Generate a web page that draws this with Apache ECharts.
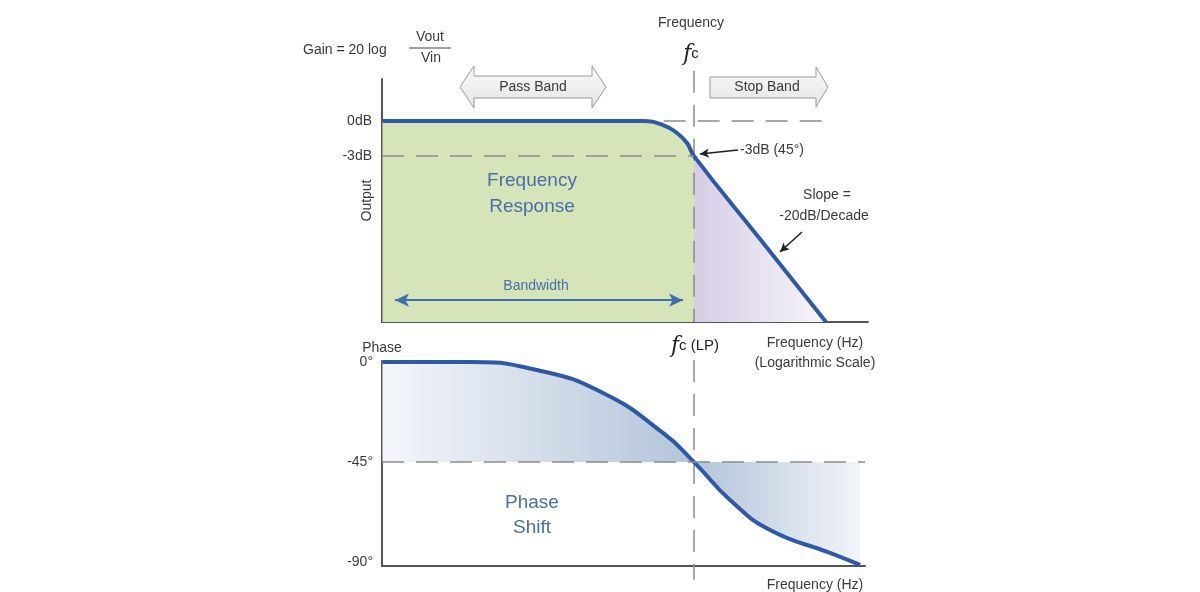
<!DOCTYPE html>
<html>
<head>
<meta charset="utf-8">
<title>Low-pass filter Bode plot</title>
<script src="https://cdn.jsdelivr.net/npm/echarts@6/dist/echarts.min.js"></script>
<style>
  html, body { margin: 0; padding: 0; background: #fff; }
  #chart { width: 1200px; height: 592px; }
</style>
</head>
<body>
<div id="chart"></div>
<script>
// x is log10(f / fc): fc sits at 0, one unit per decade
const gainCurve = [
  [-2.36, 0], [-0.39, 0], [-0.235, -0.34], [-0.129, -1.02], [-0.053, -1.88],
  [0, -3], [0.5, -10.1], [1.0, -17.2]
];
const phaseCurve = [
  [-2.36, 0], [-1.7, 0], [-1.189, -3.55], [-0.689, -13.9], [-0.235, -31.9],
  [0, -45], [0.273, -62.1], [0.576, -75.6], [1.03, -85.9], [1.258, -91.3]
];
const gainTicks = [0, -3];
const phaseTicks = [0, -45, -90];
const cutoff = 0;
// vertical reach of the fc guide in each panel (dB, degrees)
const fcGainSpan = [4.3, -17.2];
const fcPhaseSpan = [0.9, -98];

const FONT = "'Liberation Sans', Arial, sans-serif";
const TXT = '#3a3a3a';
const BLUE = '#2c5aa8';
const LABEL_BLUE = '#4a6ea8';
const DASH = { color: '#8c8c8c', width: 1.5, type: [22, 12] };

const passPart = gainCurve.filter(p => p[0] <= cutoff);
const stopPart = gainCurve.filter(p => p[0] >= cutoff);

const chart = echarts.init(document.getElementById('chart'));

function axisBase() {
  return {
    axisLine: { onZero: false, lineStyle: { color: '#555', width: 2 } },
    axisTick: { show: false },
    splitLine: { show: false }
  };
}

function text(x, y, str, size, extra) {
  return {
    type: 'text', x, y, z: 10,
    style: Object.assign({
      text: str, fill: TXT, font: size + 'px ' + FONT,
      align: 'center', verticalAlign: 'middle',
      textAlign: 'center', textVerticalAlign: 'middle'
    }, extra || {})
  };
}

function line(x1, y1, x2, y2, color, width) {
  return {
    type: 'line', z: 10,
    shape: { x1, y1, x2, y2 },
    style: { stroke: color, lineWidth: width }
  };
}

function fcGuide(axisIndex, span) {
  return {
    type: 'line', xAxisIndex: axisIndex, yAxisIndex: axisIndex, z: 2,
    silent: true, clip: false, showSymbol: false,
    data: span.map(v => [cutoff, v]),
    lineStyle: DASH
  };
}

const option = {
  animation: false,
  backgroundColor: '#fff',
  grid: [
    { left: 382, top: 79, width: 486, height: 243 },
    { left: 382, top: 361, width: 483, height: 205 }
  ],
  xAxis: [
    Object.assign(axisBase(), {
      gridIndex: 0, type: 'value', min: -2.3636, max: 1.318,
      axisLabel: { show: false }
    }),
    Object.assign(axisBase(), {
      gridIndex: 1, type: 'value', min: -2.3636, max: 1.295,
      axisLabel: { show: false }
    })
  ],
  yAxis: [
    Object.assign(axisBase(), {
      gridIndex: 0, type: 'value', min: -17.2, max: 3.6,
      name: 'Output', nameLocation: 'middle', nameGap: 8, nameRotate: 90,
      nameMoveOverlap: false,
      nameTextStyle: { color: TXT, fontSize: 14, fontFamily: FONT },
      axisLabel: {
        customValues: gainTicks, margin: 10, color: TXT, fontSize: 14, fontFamily: FONT,
        formatter: v => v + 'dB'
      }
    }),
    Object.assign(axisBase(), {
      gridIndex: 1, type: 'value', min: -91.8, max: 0.5,
      name: 'Phase', nameLocation: 'end', nameGap: 4,
      nameTextStyle: { color: TXT, fontSize: 14, fontFamily: FONT, verticalAlign: 'bottom' },
      axisLabel: {
        customValues: phaseTicks, margin: 9, color: TXT, fontSize: 14, fontFamily: FONT,
        formatter: v => v + '°'
      }
    })
  ],
  series: [
    {
      type: 'line', xAxisIndex: 0, yAxisIndex: 0, z: 1,
      data: passPart, smooth: 0.5,
      showSymbol: false, lineStyle: { width: 0 },
      areaStyle: { origin: 'start', color: '#d6e4ba', opacity: 1 }
    },
    {
      type: 'line', xAxisIndex: 0, yAxisIndex: 0, z: 1,
      data: stopPart, smooth: 0.5,
      showSymbol: false, lineStyle: { width: 0 },
      areaStyle: {
        origin: 'start', opacity: 1,
        color: new echarts.graphic.LinearGradient(0, 0, 1, 0, [
          { offset: 0, color: '#d6cde5' },
          { offset: 1, color: '#f8f6fb' }
        ])
      }
    },
    fcGuide(0, fcGainSpan),
    {
      // guide lines and arrows in the gain plot
      type: 'line', xAxisIndex: 0, yAxisIndex: 0, z: 2, data: [],
      markLine: {
        silent: true, symbol: 'none', label: { show: false },
        data: [
          [{ coord: [-2.3636, -3], lineStyle: DASH }, { coord: [cutoff, -3] }],
          [{ coord: [-0.23, 0], lineStyle: DASH }, { coord: [1.03, 0] }],
          [
            { coord: [-2.265, -15.33], symbol: 'arrow', symbolSize: [10, 14],
              lineStyle: { color: '#3f6fae', width: 2, type: 'solid' } },
            { coord: [-0.083, -15.33], symbol: 'arrow', symbolSize: [10, 14] }
          ],
          [
            { coord: [0.333, -2.48], symbol: 'none',
              lineStyle: { color: '#222', width: 1.5, type: 'solid' } },
            { coord: [0.045, -2.83], symbol: 'arrow', symbolSize: [7, 9] }
          ],
          [
            { coord: [0.818, -9.5], symbol: 'none',
              lineStyle: { color: '#222', width: 1.5, type: 'solid' } },
            { coord: [0.652, -11.2], symbol: 'arrow', symbolSize: [7, 9] }
          ]
        ]
      }
    },
    {
      name: 'Gain', type: 'line', xAxisIndex: 0, yAxisIndex: 0, z: 3,
      data: gainCurve, smooth: 0.5,
      showSymbol: false, lineStyle: { color: BLUE, width: 4 }
    },
    {
      type: 'line', xAxisIndex: 1, yAxisIndex: 1, z: 1,
      data: phaseCurve, smooth: 0.5,
      showSymbol: false, lineStyle: { width: 0 },
      areaStyle: {
        origin: -45, opacity: 1,
        color: new echarts.graphic.LinearGradient(0, 0, 1, 0, [
          { offset: 0, color: '#f4f6fa' },
          { offset: 0.653, color: '#b3c4d9' },
          { offset: 1, color: '#f2f5f9' }
        ])
      }
    },
    fcGuide(1, fcPhaseSpan),
    {
      type: 'line', xAxisIndex: 1, yAxisIndex: 1, z: 2, data: [],
      markLine: {
        silent: true, symbol: 'none', label: { show: false },
        data: [
          [{ coord: [-2.3636, -45], lineStyle: DASH }, { coord: [1.295, -45] }]
        ]
      }
    },
    {
      name: 'Phase', type: 'line', xAxisIndex: 1, yAxisIndex: 1, z: 3,
      data: phaseCurve, smooth: 0.5,
      showSymbol: false, lineStyle: { color: BLUE, width: 4 }
    }
  ],
  graphic: [
    text(303, 50, 'Gain = 20 log', 14, { align: 'left', textAlign: 'left' }),
    text(430, 37, 'Vout', 14),
    line(409, 48, 451, 48, '#444', 1),
    text(431, 58, 'Vin', 14),
    text(691, 23, 'Frequency', 14),
    text(691, 54, '{f|f}{c|c}', 14, {
      rich: {
        f: { font: 'italic 22px "DejaVu Serif", serif', fill: '#222' },
        c: { font: '15px ' + FONT, fill: '#222' }
      }
    }),
    {
      type: 'polygon', z: 9,
      shape: { points: [[460, 87], [474, 66], [474, 76], [592, 76], [592, 66], [606, 87],
        [592, 108], [592, 98], [474, 98], [474, 108]] },
      style: {
        fill: new echarts.graphic.LinearGradient(0, 0, 0, 1, [
          { offset: 0, color: '#fafafa' }, { offset: 1, color: '#e4e4e4' }
        ]),
        stroke: '#9a9a9a', lineWidth: 1
      }
    },
    text(533, 87, 'Pass Band', 14),
    {
      type: 'polygon', z: 9,
      shape: { points: [[710, 77], [816, 77], [816, 67], [828, 87], [816, 107], [816, 98], [710, 98]] },
      style: {
        fill: new echarts.graphic.LinearGradient(0, 0, 0, 1, [
          { offset: 0, color: '#fafafa' }, { offset: 1, color: '#e4e4e4' }
        ]),
        stroke: '#9a9a9a', lineWidth: 1
      }
    },
    text(767, 87, 'Stop Band', 14),
    text(532, 181, 'Frequency', 19, { fill: LABEL_BLUE }),
    text(532, 207, 'Response', 19, { fill: LABEL_BLUE }),
    text(536, 286, 'Bandwidth', 14, { fill: LABEL_BLUE }),
    text(740, 150, '-3dB (45°)', 14, { align: 'left', textAlign: 'left' }),
    text(827, 195, 'Slope =', 14),
    text(824, 216, '-20dB/Decade', 14),
    text(695, 346, '{f|f}{c|c (LP)}', 14, {
      rich: {
        f: { font: 'italic 22px "DejaVu Serif", serif', fill: '#222' },
        c: { font: '15px ' + FONT, fill: '#222' }
      }
    }),
    text(815, 343, 'Frequency (Hz)', 14),
    text(815, 363, '(Logarithmic Scale)', 14),
    text(532, 503, 'Phase', 19, { fill: LABEL_BLUE }),
    text(532, 528, 'Shift', 19, { fill: LABEL_BLUE }),
    text(815, 585, 'Frequency (Hz)', 14)
  ]
};

chart.setOption(option);
</script>
</body>
</html>
